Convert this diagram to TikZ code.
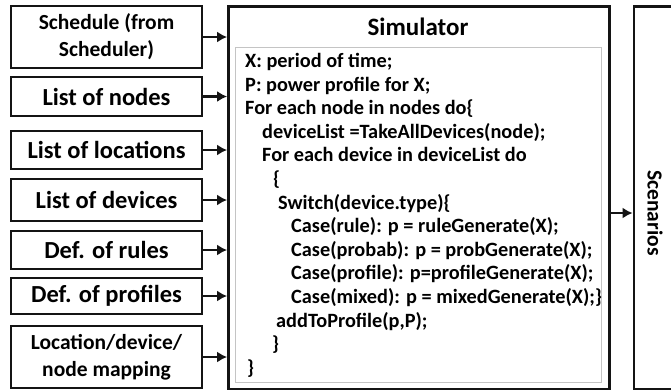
\documentclass[tikz,border=0pt]{standalone}
\usepackage{fontspec}
\setmainfont{Carlito}
\usetikzlibrary{arrows.meta}
\tikzset{>={Latex[width=11pt,length=10pt]}}
\usepackage{xcolor}
\definecolor{frame}{HTML}{141414}
\definecolor{codeframe}{HTML}{C4C4C4}
\tikzset{inbox/.style={draw=frame, line width=2.8pt, minimum width=191pt, align=center, inner sep=0pt, font=\fontsize{24.5}{28}\selectfont\bfseries}}
\tikzset{inboxtwo/.style={inbox, font=\fontsize{21.5}{27}\selectfont\bfseries}}
\tikzset{feed/.style={->, draw=frame, line width=2.6pt}}

\begin{document}
\begin{tikzpicture}[x=1pt,y=-1pt]
		\useasboundingbox (0,0) rectangle (671,389);
		\clip (0,0) rectangle (671,389);
		\begin{scope}
			%inputs
			\node[inboxtwo, minimum height=62pt] (sched) at (106.5,37) {Schedule (from\\Scheduler)};
			\node[inbox, minimum height=39pt] (nodes) at (106.5,96.5) {List of nodes};
			\node[inbox, minimum height=38pt] (locs) at (106.5,150) {List of locations};
			\node[inbox, minimum height=42pt] (devs) at (106.5,200) {List of devices};
			\node[inbox, minimum height=38pt] (rules) at (106.5,250) {Def. of rules};
			\node[inbox, minimum height=36pt] (profs) at (106.5,296) {Def. of profiles};
			\node[inboxtwo, minimum height=62pt] (mapping) at (106.5,357) {Location/device/\\node mapping};
		\end{scope}
		\begin{scope}
			%simulator
			\node[draw=frame, line width=2.8pt, minimum width=381pt, minimum height=383pt] (sim) at (419,198) {};
			\node at (418,27) (simtitle) {\fontsize{25}{28}\selectfont\bfseries Simulator};
			%code frame
			\node[draw=codeframe, line width=1.4pt, minimum width=366pt, minimum height=335pt] (codebox) at (418.5,215) {};
			\node[anchor=north west, align=left, inner sep=0pt, font=\fontsize{20.3}{23.6}\selectfont\bfseries] (code) at (245,53) {X: period of time;\\
				P: power profile for X;\\
				For each node in nodes do\{\\
				\hspace*{17pt}deviceList =TakeAllDevices(node);\\
				\hspace*{17pt}For each device in deviceList do\\
				\hspace*{28pt}\{\\
				\hspace*{33pt}Switch(device.type)\{\\
				\hspace*{46pt}Case(rule): p = ruleGenerate(X);\\
				\hspace*{46pt}Case(probab): p = probGenerate(X);\\
				\hspace*{46pt}Case(profile): p=profileGenerate(X);\\
				\hspace*{46pt}Case(mixed): p = mixedGenerate(X);\}\\
				\hspace*{31pt}addToProfile(p,P);\\
				\hspace*{27pt}\}\\
				\hspace*{2pt}\}};
		\end{scope}
		\begin{scope}
			%scenarios
			\node[draw=frame, line width=2.8pt, minimum width=56pt, minimum height=383pt] (scen) at (662,198) {};
			\node[rotate=-90] at (655,213) (scenlabel) {\fontsize{21.5}{24}\selectfont\bfseries Scenarios};
		\end{scope}
		%arrows
		\draw[feed] (sched.east) -- (sim.west |- sched.east);
		\draw[feed] (nodes.east) -- (sim.west |- nodes.east);
		\draw[feed] (locs.east) -- (sim.west |- locs.east);
		\draw[feed] (devs.east) -- (sim.west |- devs.east);
		\draw[feed] (rules.east) -- (sim.west |- rules.east);
		\draw[feed] (profs.east) -- (sim.west |- profs.east);
		\draw[feed] (mapping.east) -- (sim.west |- mapping.east);
		\draw[feed] (sim.east |- scenlabel) -- (scen.west |- scenlabel);
	\end{tikzpicture}
\end{document}
